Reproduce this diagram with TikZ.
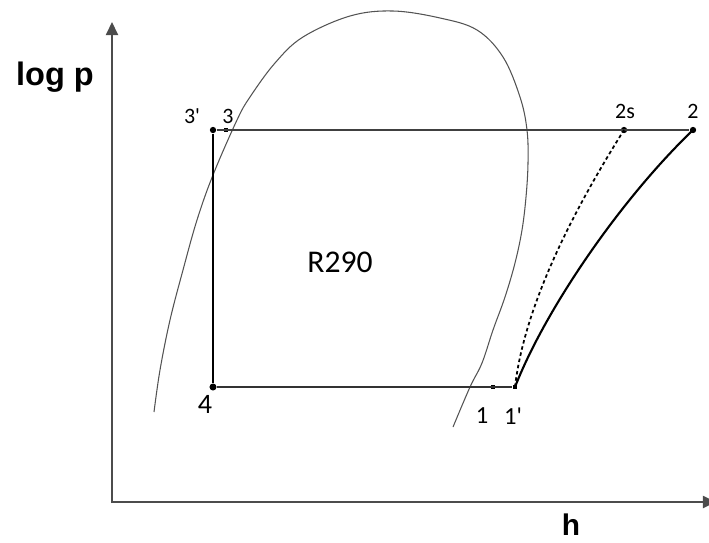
\documentclass[tikz,border=0pt]{standalone}
\usepackage{fontspec}
\setmainfont{Carlito}[Ligatures=TeXOff]
\newfontfamily\axisfont{Liberation Sans}
\usetikzlibrary{arrows.meta}

\begin{document}
\begin{tikzpicture}[x=0.02cm, y=-0.02cm,
    statedot/.style={circle, fill=black, inner sep=0pt, minimum size=3.6pt},
    statesq/.style={rectangle, fill=black, inner sep=0pt, minimum size=2.8pt},
    statelabel/.style={font=\fontsize{12.5}{14}\selectfont},
    axislabel/.style={font=\axisfont\bfseries\fontsize{18.5}{20}\selectfont},
    axisline/.style={gray!60!black, line width=0.8pt, -{Triangle[length=7.5pt, width=7pt]}}]
\useasboundingbox (0,0) rectangle (709,542);

% axes
\coordinate (origin) at (111,502);
\coordinate (ptop) at (112,22);
\coordinate (hend) at (716,502);
\draw[axisline] (112,503) -- (ptop);
\draw[axisline] (origin) -- (hend);
\node[axislabel] (logp) at (55,77) {log p};
\node[axislabel, anchor=south, inner sep=0pt, font=\axisfont\bfseries\fontsize{17}{19}\selectfont] (hlabel) at (571,536) {h};

% saturation dome
\draw[gray!65!black, line width=0.6pt] plot[smooth, tension=0.6] coordinates {
  (154,412) (160,370) (170,320) (183,270) (197,220) (213,175) (237,120)
  (250,97) (275,63) (303,37) (350,16) (393,11) (440,18) (477,30) (503,57)
  (520,97) (527,130) (528,163) (526,197) (522,230) (515,263) (505,297)
  (493,330) (482,363) (470,387) (453,427)};

% state points
\node[statedot] (s3p) at (213,130) {};
\node[statesq]  (s3)  at (226,130) {};
\node[statedot] (s2s) at (624,130) {};
\node[statedot] (s2)  at (693,130) {};
\node[statedot, minimum size=4pt] (s4) at (213,387) {};
\node[statesq]  (s1)  at (493,387) {};
\node[statesq]  (s1p) at (515,387) {};

% cycle
\draw[gray!50!black, line width=0.7pt] (s3p) -- (s2);
\draw[black, line width=1.3pt] (s3p) -- (s4);
\draw[gray!40!black, line width=1pt] (s4) -- (s1p);
\draw[black, line width=1.2pt] (s1p.center) .. controls (545,310) and (620,200) .. (s2.center);
\draw[black, line width=1pt, dash pattern=on 2pt off 1.6pt]
  (s1p.center) .. controls (525,300) and (580,200) .. (s2s.center);

% labels
\node[statelabel] (l3p) at (192,116) {3'};
\node[statelabel] (l3)  at (228,116) {3};
\node[statelabel] (l2s) at (625,111) {2s};
\node[statelabel] (l2)  at (693,111) {2};
\node[font=\fontsize{16}{18}\selectfont] (l4) at (205,404) {4};
\node[font=\fontsize{14}{16}\selectfont] (l1)  at (482,416) {1};
\node[font=\fontsize{14}{16}\selectfont] (l1p) at (513,416) {1'};
\node[font=\fontsize{18}{20}\selectfont] (fluid) at (340,262) {R290};
\end{tikzpicture}
\end{document}
